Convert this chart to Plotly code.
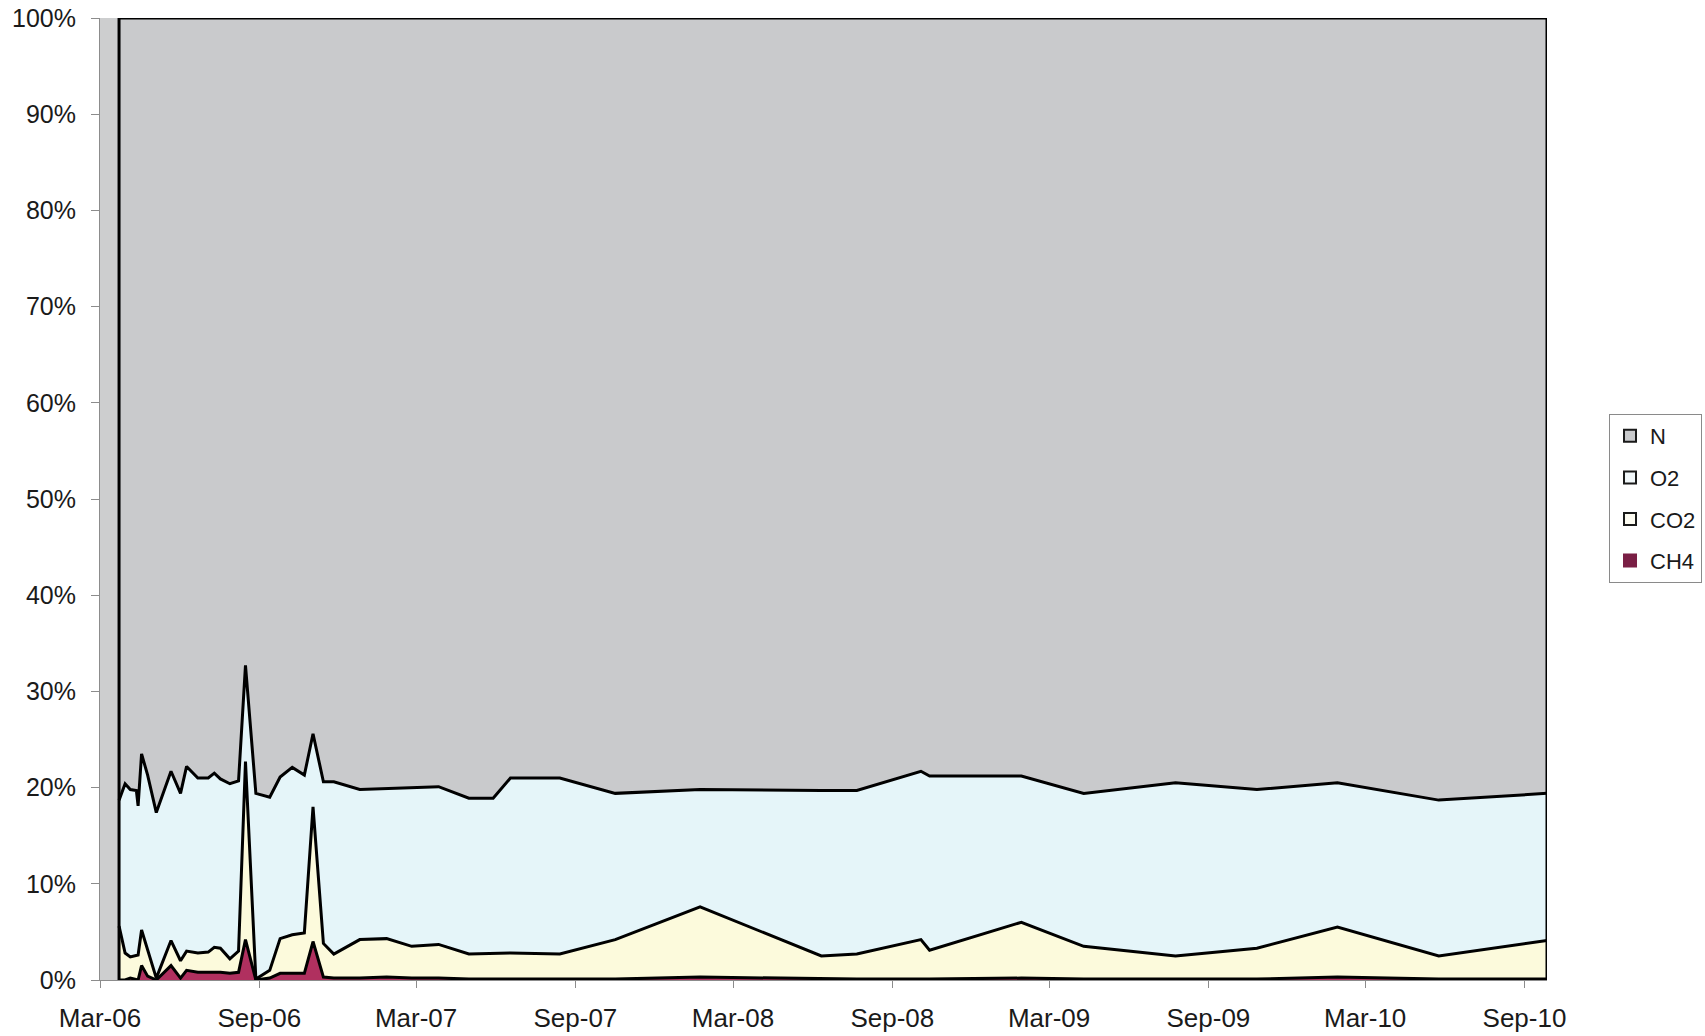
import plotly.graph_objects as go

dates = ["2006-03-23", "2006-03-30", "2006-04-05", "2006-04-12", "2006-04-14", "2006-04-18",
         "2006-04-25", "2006-05-05", "2006-05-22", "2006-06-02", "2006-06-09", "2006-06-22",
         "2006-07-04", "2006-07-11", "2006-07-18", "2006-07-29", "2006-08-08", "2006-08-16",
         "2006-08-28", "2006-09-13", "2006-09-25", "2006-10-09", "2006-10-23", "2006-11-02",
         "2006-11-14", "2006-11-26", "2006-12-26", "2007-01-26", "2007-02-24", "2007-03-27",
         "2007-05-01", "2007-05-29", "2007-06-18", "2007-08-14", "2007-10-17", "2008-01-23",
         "2008-06-11", "2008-07-22", "2008-10-04", "2008-10-14", "2009-01-28", "2009-04-10",
         "2009-07-25", "2009-10-27", "2010-01-28", "2010-05-25", "2010-09-27"]

ch4 = [0.0, 0.0, 0.2, 0.0, 0.0, 1.5, 0.4, 0.0, 1.5, 0.2, 1.0, 0.8, 0.8, 0.8, 0.8, 0.7, 0.8, 4.2,
       0.0, 0.2, 0.7, 0.7, 0.7, 4.0, 0.3, 0.2, 0.2, 0.3, 0.2, 0.2, 0.1, 0.1, 0.1, 0.1, 0.1, 0.3,
       0.1, 0.1, 0.1, 0.1, 0.2, 0.1, 0.1, 0.1, 0.3, 0.1, 0.1]
co2 = [5.6, 2.8, 2.2, 2.5, 2.6, 3.7, 2.7, 0.2, 2.6, 1.8, 2.0, 2.0, 2.1, 2.6, 2.5, 1.5, 2.2, 18.5,
       0.1, 0.8, 3.6, 4.0, 4.2, 14.0, 3.5, 2.5, 4.0, 4.0, 3.3, 3.5, 2.6, 2.7, 2.7, 2.6, 4.1, 7.3,
       2.4, 2.6, 4.1, 3.0, 5.8, 3.4, 2.4, 3.2, 5.2, 2.4, 4.0]
o2 = [13.1, 17.6, 17.4, 17.2, 15.5, 18.3, 18.2, 17.2, 17.6, 17.4, 19.2, 18.2, 18.1, 18.1, 17.6,
      18.2, 17.7, 10.0, 19.3, 18.0, 16.8, 17.4, 16.4, 7.6, 16.8, 17.9, 15.6, 15.6, 16.5, 16.4,
      16.2, 16.1, 18.2, 18.3, 15.2, 12.2, 17.2, 17.0, 17.5, 18.1, 15.2, 15.9, 18.0, 16.5, 15.0,
      16.2, 15.3]
n = [81.3, 79.6, 80.2, 80.3, 81.9, 76.5, 78.7, 82.6, 78.3, 80.6, 77.8, 79.0, 79.0, 78.5, 79.1,
     79.6, 79.3, 67.3, 80.6, 81.0, 78.9, 77.9, 78.7, 74.4, 79.4, 79.4, 80.2, 80.1, 80.0, 79.9,
     81.1, 81.1, 79.0, 79.0, 80.6, 80.2, 80.3, 80.3, 78.3, 78.8, 78.8, 80.6, 79.5, 80.2, 79.5,
     81.3, 80.6]

# name, values, area fill, legend square fill, legend square outline
series = [("CH4", ch4, "#B0305F", "#7A1F45", "#7A1F45"),
          ("CO2", co2, "#FCFADC", "#FDFCF2", "#1a1a1a"),
          ("O2", o2, "#E5F5F9", "#F2F8FA", "#1a1a1a"),
          ("N", n, "#C9CACC", "#C9CACC", "#1a1a1a")]

x_start = "2006-03-01"
tick_vals = ["2006-03-01", "2006-09-01", "2007-03-01", "2007-09-01", "2008-03-01",
             "2008-09-01", "2009-03-01", "2009-09-01", "2010-03-01", "2010-09-01"]
tick_text = ["Mar-06", "Sep-06", "Mar-07", "Sep-07", "Mar-08", "Sep-08", "Mar-09",
             "Sep-09", "Mar-10", "Sep-10"]
y_ticks = [0, 10, 20, 30, 40, 50, 60, 70, 80, 90, 100]
y_text = ["0%", "10%", "20%", "30%", "40%", "50%", "60%", "70%", "80%", "90%", "100%"]

FONT = "Liberation Sans, Arial, sans-serif"
LW = 3

fig = go.Figure()
for name, vals, fillc, _, _ in series:
    fig.add_trace(go.Scatter(
        x=dates, y=vals, name=name, mode="lines", stackgroup="gas",
        fillcolor=fillc, line=dict(color="black", width=LW),
        hoverinfo="skip", showlegend=False,
    ))

# vertical outline edges of the stacked area (first and last sample)
for d in (dates[0], dates[-1]):
    fig.add_trace(go.Scatter(x=[d, d], y=[0, 100], mode="lines",
                             line=dict(color="black", width=LW),
                             showlegend=False, hoverinfo="skip"))

# legend entries with square swatches (N first)
for name, _, _, lfill, lline in reversed(series):
    fig.add_trace(go.Scatter(
        x=[None], y=[None], mode="markers", name=name, legendgroup=name,
        marker=dict(symbol="square", size=12, color=lfill,
                    line=dict(color=lline, width=2)),
        hoverinfo="skip",
    ))

fig.update_layout(
    width=1705, height=1036,
    margin=dict(l=100, r=158, t=18, b=56),
    paper_bgcolor="white",
    plot_bgcolor="#CDCECF",
    font=dict(family=FONT, size=25, color="#1a1a1a"),
    showlegend=True,
    legend=dict(
        xref="container", yref="container",
        x=0.9437, y=0.6004, xanchor="left", yanchor="top",
        traceorder="grouped",
        bordercolor="#8a8a8a", borderwidth=1, bgcolor="white",
        font=dict(family=FONT, size=22, color="#1a1a1a"),
        itemwidth=30, tracegroupgap=10,
    ),
    xaxis=dict(
        type="date", range=[x_start, dates[-1]],
        tickvals=tick_vals, ticktext=tick_text,
        showgrid=False, zeroline=False, automargin=False,
        showline=True, linecolor="#8c8c8c", linewidth=1,
        ticks="outside", ticklen=7, tickcolor="#8c8c8c",
        ticklabelstandoff=8,
        tickfont=dict(family=FONT, size=26, color="#1a1a1a"),
    ),
    yaxis=dict(
        range=[0, 100], tickvals=y_ticks, ticktext=y_text,
        showgrid=False, zeroline=False, automargin=False,
        showline=True, linecolor="#8c8c8c", linewidth=1,
        ticks="outside", ticklen=8, tickcolor="#8c8c8c",
        ticklabelstandoff=10,
        tickfont=dict(family=FONT, size=25, color="#1a1a1a"),
    ),
)

fig.write_html(
    "out.html",
    config={"displayModeBar": False},
    post_script="document.body.style.margin='0';document.body.style.overflow='hidden';",
)
